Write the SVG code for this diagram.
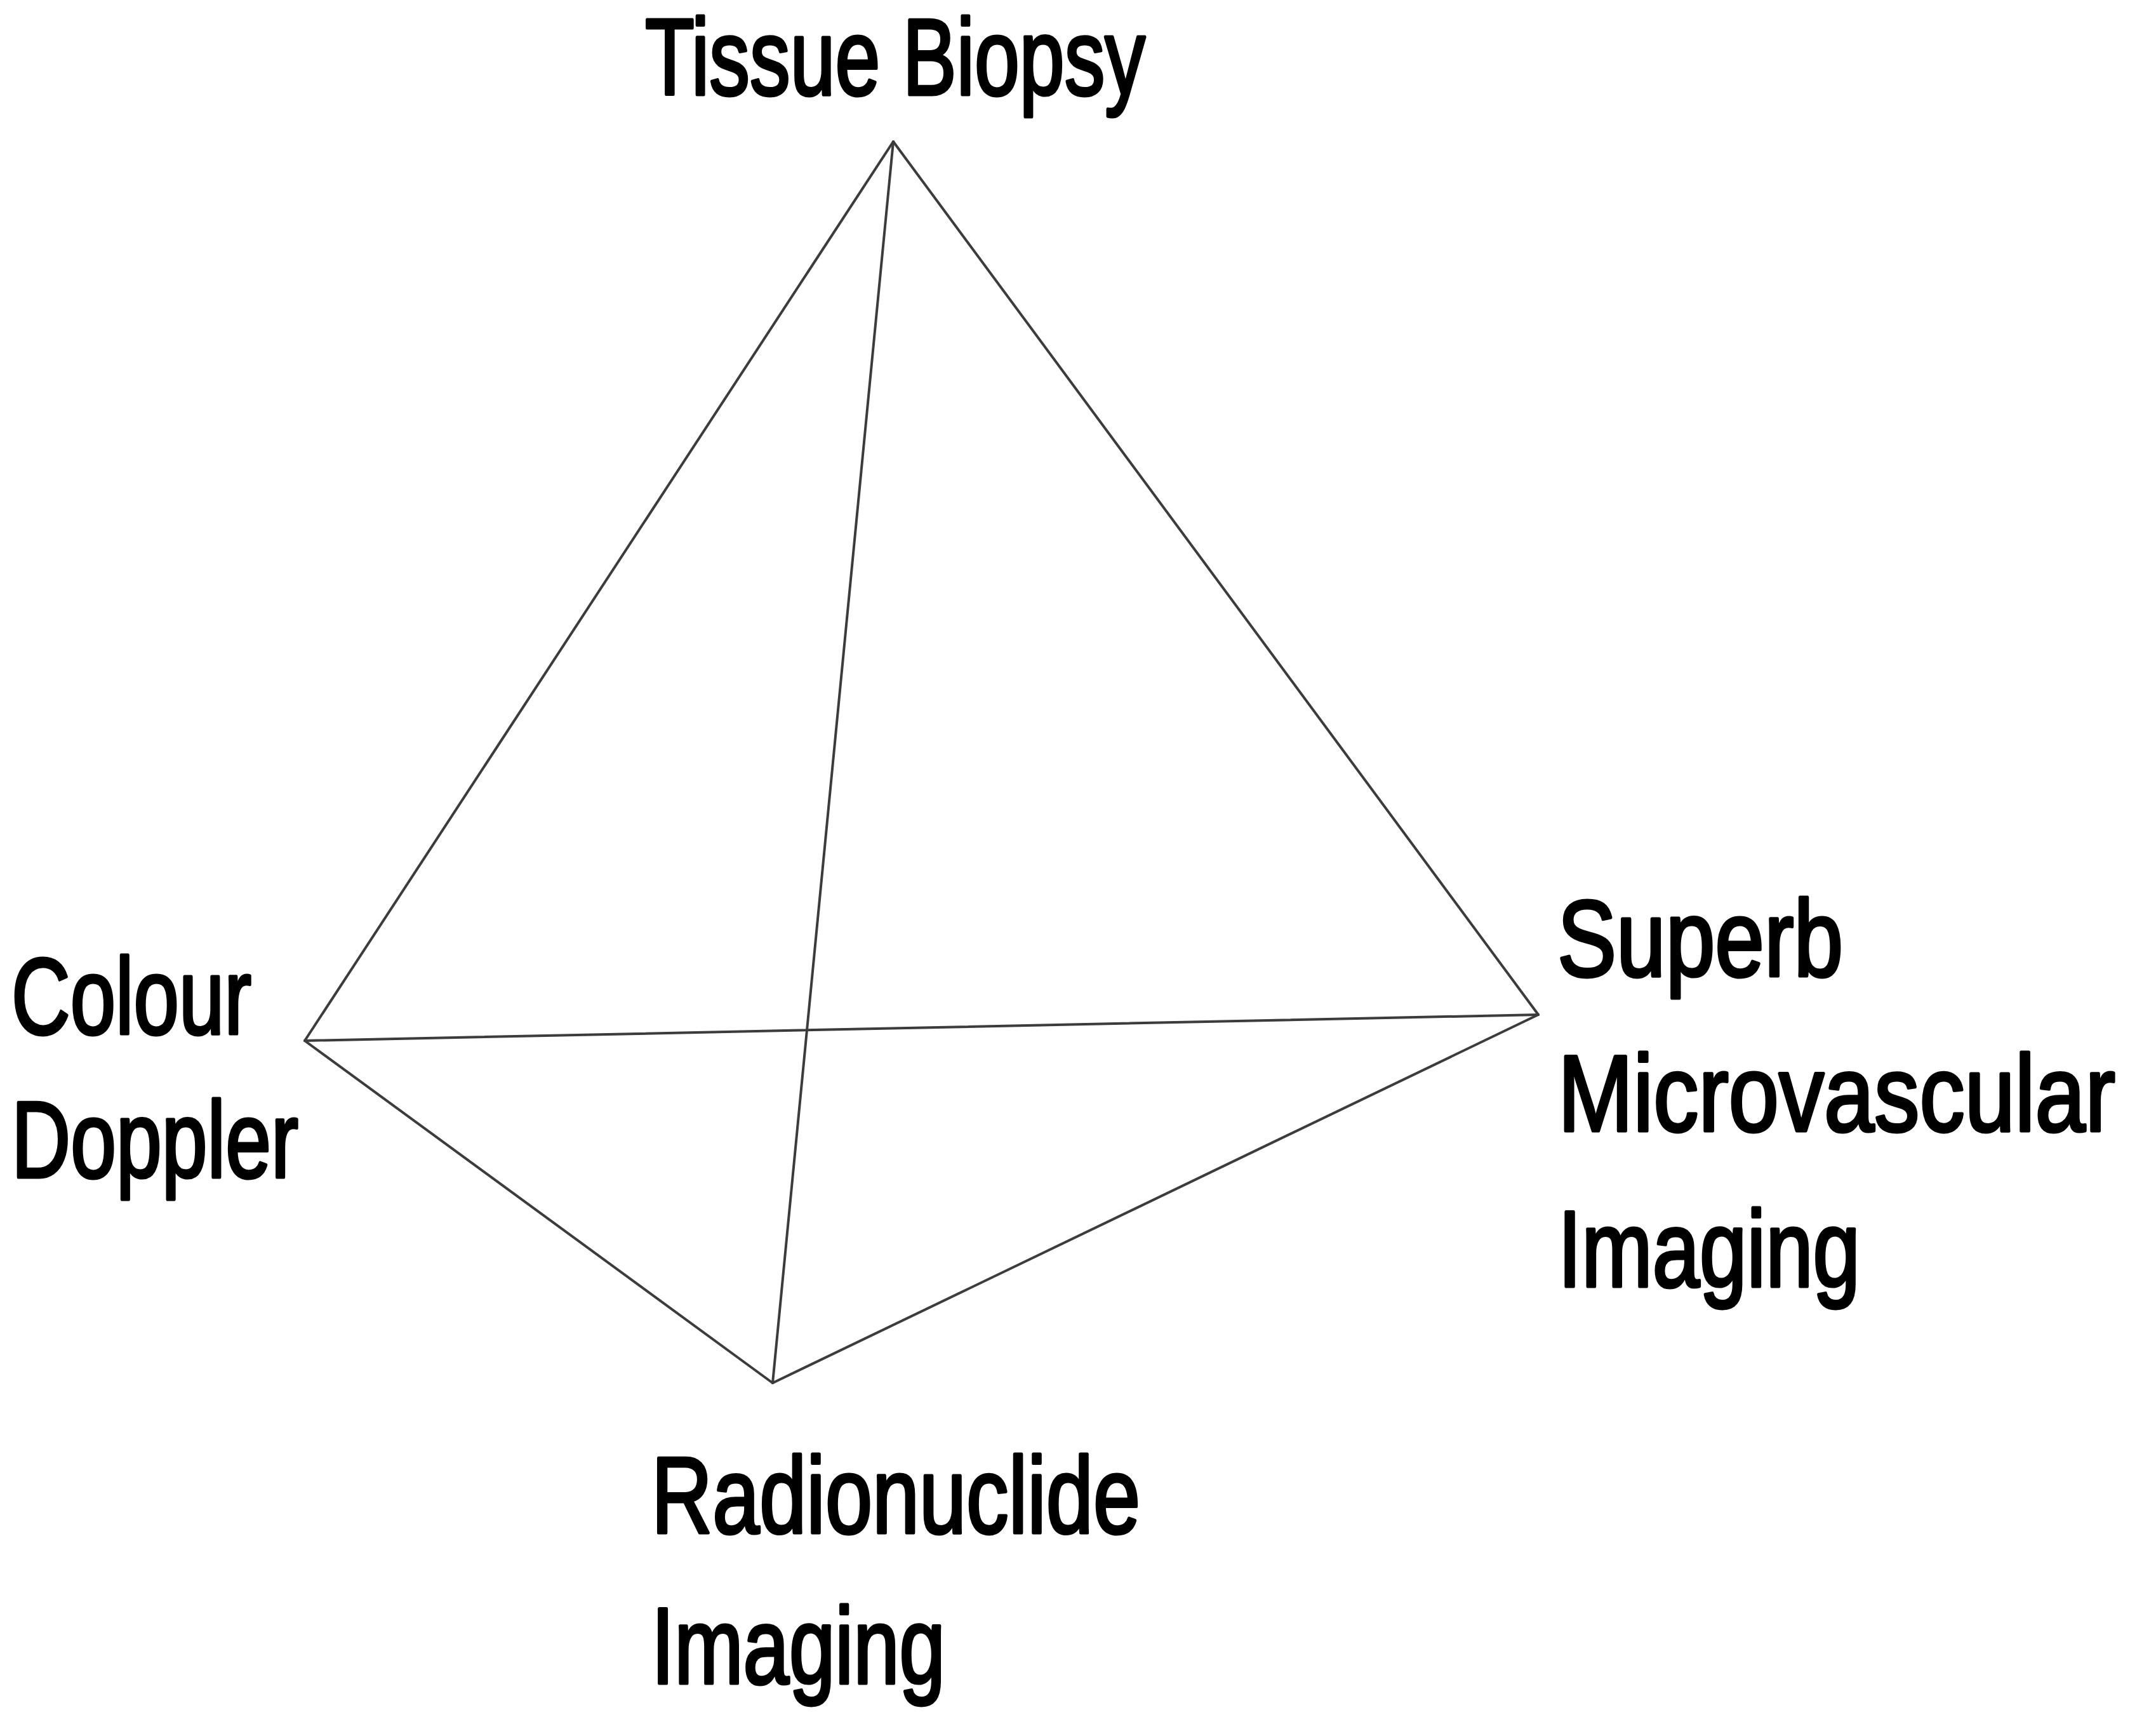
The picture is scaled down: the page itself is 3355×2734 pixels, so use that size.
<svg xmlns="http://www.w3.org/2000/svg" width="3355" height="2734" viewBox="0 0 3355 2734">
<style>
.lbl{font-family:"Liberation Sans Narrow","Liberation Sans",Arial,sans-serif;font-size:170px;fill:#000;stroke:#000;stroke-width:5;stroke-linejoin:round;}
.edge{stroke:#3c3c3c;stroke-width:4;fill:none;stroke-linecap:round;}
</style>
<rect width="3355" height="2734" fill="#fff"/>
<g id="connectors">
<line class="edge" x1="1407" y1="223" x2="480" y2="1639"/>
<line class="edge" x1="1407" y1="223" x2="2423" y2="1598"/>
<line class="edge" x1="1407" y1="223" x2="1217" y2="2178"/>
<line class="edge" x1="480" y1="1639" x2="2423" y2="1598"/>
<line class="edge" x1="480" y1="1639" x2="1217" y2="2178"/>
<line class="edge" x1="2423" y1="1598" x2="1217" y2="2178"/>
</g>
<g id="node-tissue-biopsy">
<text class="lbl" x="1016" y="149" textLength="788" lengthAdjust="spacingAndGlyphs">Tissue Biopsy</text>
</g>
<g id="node-colour-doppler">
<text class="lbl" x="18" y="1628" textLength="378" lengthAdjust="spacingAndGlyphs">Colour</text>
<text class="lbl" x="18" y="1854" textLength="452" lengthAdjust="spacingAndGlyphs">Doppler</text>
</g>
<g id="node-smi">
<text class="lbl" x="2453" y="1537" textLength="450" lengthAdjust="spacingAndGlyphs">Superb</text>
<text class="lbl" x="2454" y="1781" textLength="878" lengthAdjust="spacingAndGlyphs">Microvascular</text>
<text class="lbl" x="2454" y="2026" textLength="476" lengthAdjust="spacingAndGlyphs">Imaging</text>
</g>
<g id="node-radionuclide">
<text class="lbl" x="1026" y="2414" textLength="770" lengthAdjust="spacingAndGlyphs">Radionuclide</text>
<text class="lbl" x="1026" y="2651" textLength="463" lengthAdjust="spacingAndGlyphs">Imaging</text>
</g>
</svg>
